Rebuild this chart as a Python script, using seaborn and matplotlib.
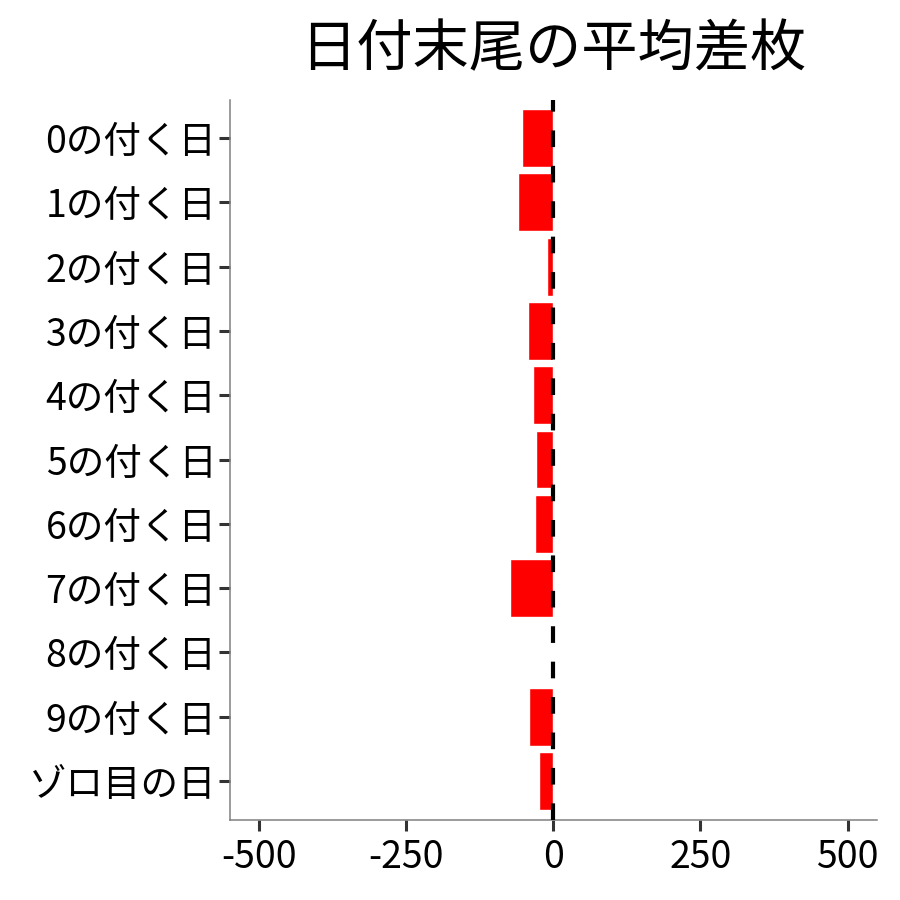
import matplotlib
matplotlib.use("Agg")
import matplotlib.pyplot as plt
import seaborn as sns
import pandas as pd

categories = ["0の付く日", "1の付く日", "2の付く日", "3の付く日", "4の付く日",
              "5の付く日", "6の付く日", "7の付く日", "8の付く日", "9の付く日", "ゾロ目の日"]
values = [-53, -60, -11, -43, -35, -29, -31, -74, -2, -41, -24]
xticks = [-500, -250, 0, 250, 500]
title = "日付末尾の平均差枚"

sns.set_theme(style="white")
plt.rcParams['font.family'] = ['Noto Sans CJK JP', 'DejaVu Sans']
plt.rcParams['text.color'] = 'black'

df = pd.DataFrame({"cat": categories, "val": values})

fig = plt.figure(figsize=(9, 9), dpi=100)
ax = fig.add_axes([0.255, 0.0894, 0.7194, 0.8])

sns.barplot(data=df, x="val", y="cat", order=categories, color="#FF0000",
            saturation=1, width=0.9, ax=ax)
ax.axvline(0, color="black", lw=3.0, linestyle=(0, (4.0, 4.5)), zorder=5)

ax.set_xlim(-550, 550)
ax.set_ylim(len(categories) - 0.4, -0.6)
ax.set_xticks(xticks)
ax.set_xticklabels([str(t) for t in xticks])
ax.set_xlabel("")
ax.set_ylabel("")
ax.set_title(title, fontsize=40.5, pad=24, color="black")

for s in ["top", "right"]:
    ax.spines[s].set_visible(False)
for s in ["left", "bottom"]:
    ax.spines[s].set_color("#808080")
    ax.spines[s].set_linewidth(1.1)

ax.tick_params(axis="both", which="both", length=8, width=2.2, color="#333333",
               labelsize=27, labelcolor="black")
ax.tick_params(axis="x", bottom=True, pad=5)
ax.tick_params(axis="y", left=True, pad=1.5)

fig.savefig("out.png", dpi=100)
